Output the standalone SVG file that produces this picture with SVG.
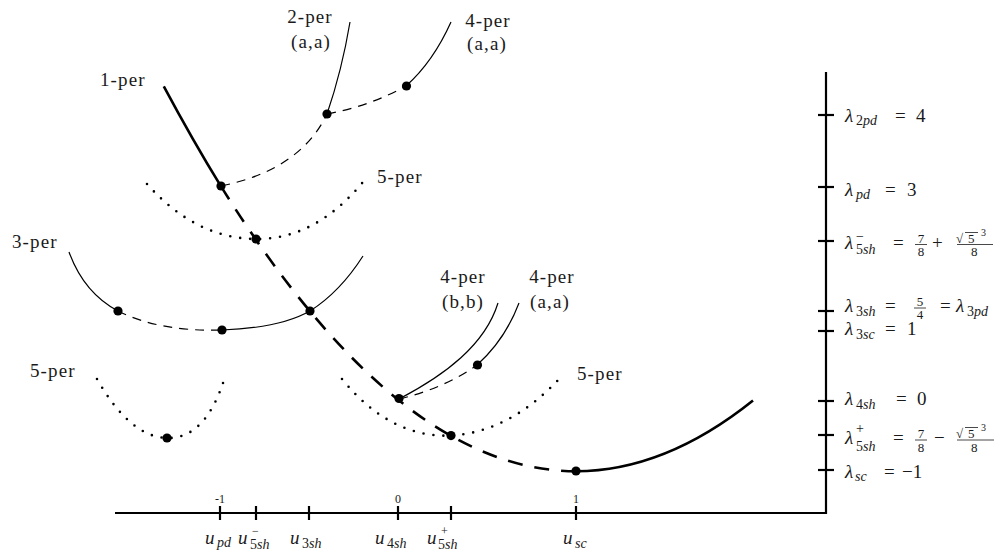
<svg xmlns="http://www.w3.org/2000/svg" width="1007" height="553" viewBox="0 0 1007 553">
<style>
text{font-family:"Liberation Serif","DejaVu Serif",serif;fill:#1a1a1a}
.lab{font-size:19px;letter-spacing:1.1px}
.m{font-size:19px;font-style:italic}
.r{font-size:19px;font-style:normal}
.s{font-size:14px;font-style:normal}
.si{font-size:14px;font-style:italic}
.sp{font-size:12px;font-style:normal}
.f{font-size:13px}
.n{font-size:12px}
.e{font-size:10px}
.ax{stroke:#000;stroke-width:2.2;fill:none}
.tk{stroke:#000;stroke-width:2.2}
.thick{stroke:#000;stroke-width:2.6;fill:none}
.tdash{stroke:#000;stroke-width:2.6;fill:none;stroke-dasharray:15 12}
.thin{stroke:#000;stroke-width:1.2;fill:none}
.dash{stroke:#000;stroke-width:1.2;fill:none;stroke-dasharray:9 7}
.dot{stroke:#000;stroke-width:2.6;fill:none;stroke-dasharray:0 10;stroke-linecap:round}
.bar{stroke:#1a1a1a;stroke-width:0.8}
.pt{fill:#000}
</style>

<g id="axes">
  <line class="ax" x1="826" y1="72" x2="826" y2="514"/>
  <line class="ax" x1="115" y1="513" x2="827" y2="513"/>
  <g id="ytick">
    <line class="tk" x1="818" y1="115" x2="834" y2="115"/>
    <line class="tk" x1="818" y1="187" x2="834" y2="187"/>
    <line class="tk" x1="818" y1="241" x2="834" y2="241"/>
    <line class="tk" x1="818" y1="311" x2="834" y2="311"/>
    <line class="tk" x1="818" y1="331" x2="834" y2="331"/>
    <line class="tk" x1="818" y1="401" x2="834" y2="401"/>
    <line class="tk" x1="818" y1="435" x2="834" y2="435"/>
    <line class="tk" x1="818" y1="470" x2="834" y2="470"/>
  </g>
  <g id="xtick">
    <line class="tk" x1="220" y1="506" x2="220" y2="520"/>
    <line class="tk" x1="256" y1="506" x2="256" y2="520"/>
    <line class="tk" x1="309" y1="506" x2="309" y2="520"/>
    <line class="tk" x1="398" y1="506" x2="398" y2="520"/>
    <line class="tk" x1="451" y1="506" x2="451" y2="520"/>
    <line class="tk" x1="576" y1="506" x2="576" y2="520"/>
  </g>
</g>

<g id="connectors">
  <path class="thick" d="M163.8,86.3 Q192.6,140.1 221,186.4"/>
  <path class="tdash" d="M221,186.4 Q398.5,471.2 576,471.2"/>
  <path class="thick" d="M576,471.2 Q664.75,471.2 753,400.5"/>
  <path class="thin" d="M327,114 Q342,70 350,22"/>
  <path class="dash" d="M221,186 Q300,170 327,114"/>
  <path class="dash" d="M327,114 Q370,106 406,86"/>
  <path class="thin" d="M406,86 Q433,62 451,22"/>
  <path class="dot" d="M147,184 Q195,238 255,239 Q315,240 363,182"/>
  <path class="thin" d="M69,252 Q84,293 118,311"/>
  <path class="dash" d="M118,311 Q160,332 222,330"/>
  <path class="thin" d="M222,330 Q280,328 310,311 Q340,292 363,256"/>
  <path class="dot" d="M97,379 Q130,437 167,438 Q205,439 224,380"/>
  <path class="dot" d="M342,379 Q390,438 451,435.6 Q510,432 560,378"/>
  <path class="thin" d="M399,399 C445,375 485,345 498,303"/>
  <path class="dash" d="M399,399 Q445,388 477,365"/>
  <path class="thin" d="M477,365 Q505,340 519,303"/>
</g>

<g id="points">
  <circle class="pt" cx="221" cy="186" r="4.6"/>
  <circle class="pt" cx="256" cy="239" r="4.6"/>
  <circle class="pt" cx="310" cy="311" r="4.6"/>
  <circle class="pt" cx="399" cy="398.5" r="4.6"/>
  <circle class="pt" cx="451" cy="435.6" r="4.6"/>
  <circle class="pt" cx="576" cy="471" r="4.6"/>
  <circle class="pt" cx="327" cy="114" r="4.6"/>
  <circle class="pt" cx="406.5" cy="86" r="4.6"/>
  <circle class="pt" cx="118" cy="311" r="4.6"/>
  <circle class="pt" cx="222" cy="330" r="4.6"/>
  <circle class="pt" cx="477.5" cy="365" r="4.6"/>
  <circle class="pt" cx="167" cy="438" r="4.6"/>
</g>

<g id="curve-labels">
  <text class="lab" x="100" y="86">1-per</text>
  <text class="lab" x="310" y="23" text-anchor="middle">2-per</text>
  <text class="lab" x="311" y="48" text-anchor="middle">(a,a)</text>
  <text class="lab" x="488" y="27" text-anchor="middle">4-per</text>
  <text class="lab" x="487" y="50" text-anchor="middle">(a,a)</text>
  <text class="lab" x="377" y="183">5-per</text>
  <text class="lab" x="12" y="248">3-per</text>
  <text class="lab" x="463" y="283" text-anchor="middle">4-per</text>
  <text class="lab" x="463" y="308" text-anchor="middle">(b,b)</text>
  <text class="lab" x="552" y="283" text-anchor="middle">4-per</text>
  <text class="lab" x="550" y="308" text-anchor="middle">(a,a)</text>
  <text class="lab" x="577" y="380">5-per</text>
  <text class="lab" x="30" y="377">5-per</text>
</g>

<g id="x-numbers">
  <text class="n" x="220" y="503" text-anchor="middle">-1</text>
  <text class="n" x="398" y="503" text-anchor="middle">0</text>
  <text class="n" x="576" y="503" text-anchor="middle">1</text>
</g>

<g id="x-labels">
  <text class="m" x="205" y="544">u<tspan class="si" x="217" y="547">pd</tspan></text>
  <text class="m" x="238" y="544">u<tspan class="sp" x="252" y="535">−</tspan><tspan class="s" x="250" y="549">5</tspan><tspan class="si">sh</tspan></text>
  <text class="m" x="290" y="544">u<tspan class="s" x="302" y="548">3</tspan><tspan class="si">sh</tspan></text>
  <text class="m" x="375" y="544">u<tspan class="s" x="387" y="548">4</tspan><tspan class="si">sh</tspan></text>
  <text class="m" x="427" y="544">u<tspan class="sp" x="441" y="535">+</tspan><tspan class="s" x="438" y="549">5</tspan><tspan class="si">sh</tspan></text>
  <text class="m" x="563" y="544">u<tspan class="si" x="575" y="548">sc</tspan></text>
</g>

<g id="y-labels">
  <text class="m" x="845" y="122">λ<tspan class="s" x="856" y="125">2</tspan><tspan class="si">pd</tspan><tspan class="r" x="895" y="122">=</tspan><tspan class="r" x="916">4</tspan></text>

  <text class="m" x="845" y="196">λ<tspan class="si" x="856" y="199">pd</tspan><tspan class="r" x="885" y="196">=</tspan><tspan class="r" x="907">3</tspan></text>

  <text class="m" x="845" y="249">λ<tspan class="s" x="856" y="241">−</tspan><tspan class="s" x="856" y="254">5</tspan><tspan class="si">sh</tspan><tspan class="r" x="893" y="249">=</tspan><tspan class="r" x="932">+</tspan></text>
  <text class="f" x="921" y="243" text-anchor="middle">7<tspan x="921" y="256">8</tspan></text>
  <line class="bar" x1="915" y1="244.5" x2="927" y2="244.5"/>
  <text class="f" x="956" y="243">√<tspan x="968">5</tspan><tspan class="e" x="981" y="236">3</tspan><tspan x="971" y="256">8</tspan></text>
  <line class="bar" x1="965" y1="232.5" x2="978" y2="232.5"/>
  <line class="bar" x1="957" y1="244.5" x2="993" y2="244.5"/>

  <text class="m" x="845" y="312">λ<tspan class="s" x="856" y="316">3</tspan><tspan class="si">sh</tspan><tspan class="r" x="885" y="312">=</tspan><tspan class="r" x="940">=</tspan><tspan x="956">λ</tspan><tspan class="s" x="967" y="316">3</tspan><tspan class="si">pd</tspan></text>
  <text class="f" x="920" y="306" text-anchor="middle">5<tspan x="920" y="319">4</tspan></text>
  <line class="bar" x1="914" y1="308" x2="926" y2="308"/>

  <text class="m" x="845" y="335">λ<tspan class="s" x="856" y="339">3</tspan><tspan class="si">sc</tspan><tspan class="r" x="885" y="335">=</tspan><tspan class="r" x="907">1</tspan></text>

  <text class="m" x="845" y="405">λ<tspan class="s" x="856" y="409">4</tspan><tspan class="si">sh</tspan><tspan class="r" x="896" y="405">=</tspan><tspan class="r" x="917">0</tspan></text>

  <text class="m" x="845" y="444">λ<tspan class="s" x="856" y="433">+</tspan><tspan class="s" x="856" y="451">5</tspan><tspan class="si">sh</tspan><tspan class="r" x="893" y="444">=</tspan><tspan class="r" x="934">−</tspan></text>
  <text class="f" x="921" y="438" text-anchor="middle">7<tspan x="921" y="452">8</tspan></text>
  <line class="bar" x1="915" y1="440" x2="927" y2="440"/>
  <text class="f" x="956" y="438">√<tspan x="968">5</tspan><tspan class="e" x="981" y="431">3</tspan><tspan x="971" y="452">8</tspan></text>
  <line class="bar" x1="965" y1="427.5" x2="978" y2="427.5"/>
  <line class="bar" x1="957" y1="440" x2="994" y2="440"/>

  <text class="m" x="845" y="478">λ<tspan class="si" x="855" y="481">sc</tspan><tspan class="r" x="884" y="478">=</tspan><tspan class="r" x="902">−1</tspan></text>
</g>
</svg>
